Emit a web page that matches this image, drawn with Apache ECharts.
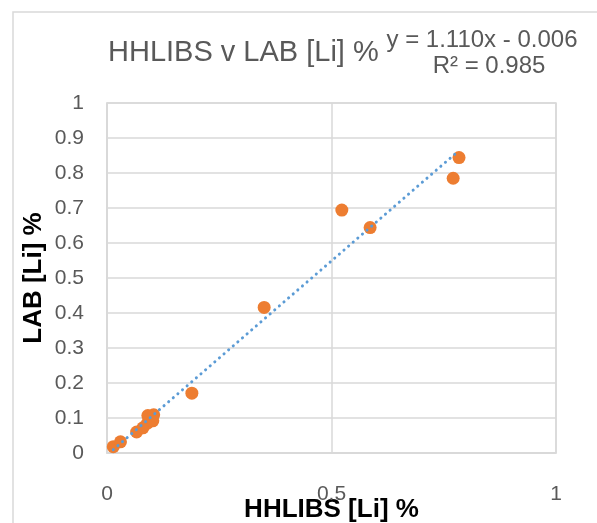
<!DOCTYPE html>
<html>
<head>
<meta charset="utf-8">
<script src="https://cdn.jsdelivr.net/npm/echarts@6/dist/echarts.min.js"></script>
<style>
html,body{margin:0;padding:0;background:#fff;overflow:hidden;}
#chart{width:597px;height:523px;}
</style>
</head>
<body>
<div id="chart"></div>
<script>
// ---- data ----
const chartTitle = 'HHLIBS v LAB [Li] %';
const xAxisTitle = 'HHLIBS [Li] %';
const yAxisTitle = 'LAB [Li] %';
const hhlibsValues = [0.014, 0.030, 0.066, 0.080, 0.090, 0.091, 0.102, 0.104, 0.189, 0.350, 0.523, 0.586, 0.771, 0.784];
const labValues    = [0.018, 0.032, 0.060, 0.072, 0.085, 0.107, 0.092, 0.109, 0.171, 0.416, 0.694, 0.644, 0.785, 0.844];
const trendSlope = 1.110;
const trendIntercept = -0.006;
const trendR2 = 0.985;
const xTicks = [0, 0.5, 1];
const yTicks = [0, 0.1, 0.2, 0.3, 0.4, 0.5, 0.6, 0.7, 0.8, 0.9, 1];

const points = hhlibsValues.map((x, i) => [x, labValues[i]]);
const xMin = Math.min(...hhlibsValues), xMax = Math.max(...hhlibsValues);
const trendData = [[xMin, trendSlope * xMin + trendIntercept], [xMax, trendSlope * xMax + trendIntercept]];
const eqText = 'y = ' + trendSlope.toFixed(3) + 'x - ' + Math.abs(trendIntercept).toFixed(3);
const r2Text = 'R\u00B2 = ' + trendR2.toFixed(3);

const FONT = '"Liberation Sans", Arial, Helvetica, sans-serif';
const GRID = '#d9d9d9';
const chart = echarts.init(document.getElementById('chart'), null, {renderer: 'canvas', width: 597, height: 523});
chart.setOption({
  backgroundColor: '#ffffff',
  animation: false,
  textStyle: {fontFamily: FONT},
  grid: {left: 107, width: 449, top: 103, height: 350, show: true, borderColor: GRID, borderWidth: 1.5,
         containLabel: false, outerBoundsMode: 'none'},
  graphic: [
    {type: 'rect', z: -10, silent: true, shape: {x: 13, y: 12, width: 700, height: 700},
     style: {fill: 'none', stroke: GRID, lineWidth: 1.5}},
    {type: 'text', left: 108, top: 38, silent: true,
     style: {text: chartTitle, font: 'normal 29px ' + FONT, fill: '#595959'}},
    {type: 'text', x: 482, y: 40, silent: true,
     style: {text: eqText, font: 'normal 24px ' + FONT, fill: '#595959', textAlign: 'center', textVerticalAlign: 'middle'}},
    {type: 'text', x: 489, y: 66, silent: true,
     style: {text: r2Text, font: 'normal 24px ' + FONT, fill: '#595959', textAlign: 'center', textVerticalAlign: 'middle'}}
  ],
  xAxis: {
    type: 'value', min: xTicks[0], max: xTicks[xTicks.length - 1], interval: xTicks[1] - xTicks[0],
    name: xAxisTitle, nameLocation: 'middle', nameGap: 44, nameMoveOverlap: false,
    nameTextStyle: {fontSize: 26, fontWeight: 'bold', color: '#000', fontFamily: FONT},
    axisLine: {show: true, lineStyle: {color: GRID, width: 1.5}},
    axisTick: {show: false},
    axisLabel: {fontSize: 21, color: '#595959', margin: 31, fontFamily: FONT},
    splitLine: {show: true, lineStyle: {color: GRID, width: 1.5}}
  },
  yAxis: {
    type: 'value', min: yTicks[0], max: yTicks[yTicks.length - 1], interval: 0.1,
    name: yAxisTitle, nameLocation: 'middle', nameGap: 60, nameRotate: 90, nameMoveOverlap: false,
    nameTextStyle: {fontSize: 26, fontWeight: 'bold', color: '#000', fontFamily: FONT},
    axisLine: {show: true, lineStyle: {color: GRID, width: 1.5}},
    axisTick: {show: false},
    axisLabel: {fontSize: 21, color: '#595959', margin: 23, fontFamily: FONT,
      formatter: v => String(Math.round(v * 10) / 10)},
    splitLine: {show: true, lineStyle: {color: GRID, width: 1.5}}
  },
  series: [
    {type: 'scatter', data: points, symbol: 'circle', symbolSize: 13,
     itemStyle: {color: '#ED7D31', opacity: 1}, z: 2},
    {type: 'line', data: trendData, symbol: 'none', z: 3,
     lineStyle: {color: '#5B9BD5', width: 3, type: [0.1, 6], cap: 'round'}}
  ]
});
</script>
</body>
</html>
